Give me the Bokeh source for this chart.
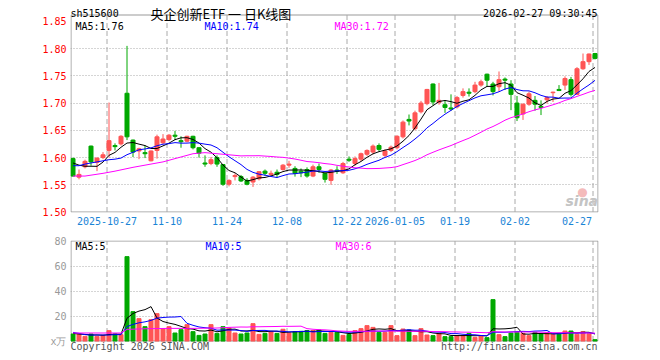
import numpy as np
import pandas as pd
from bokeh.plotting import figure
from bokeh.layouts import column
from bokeh.models import (FixedTicker, CustomJSTickFormatter, PrintfTickFormatter,
                          Label, Range1d, ColumnDataSource)
from bokeh.embed import file_html
from bokeh.resources import INLINE

# ---------------- data ----------------
dates = [
    "2025-10-17", "2025-10-20", "2025-10-21", "2025-10-22", "2025-10-23", "2025-10-24",
    "2025-10-27", "2025-10-28", "2025-10-29", "2025-10-30", "2025-10-31",
    "2025-11-03", "2025-11-04", "2025-11-05", "2025-11-06", "2025-11-07",
    "2025-11-10", "2025-11-11", "2025-11-12", "2025-11-13", "2025-11-14",
    "2025-11-17", "2025-11-18", "2025-11-19", "2025-11-20", "2025-11-21",
    "2025-11-24", "2025-11-25", "2025-11-26", "2025-11-27", "2025-11-28",
    "2025-12-01", "2025-12-02", "2025-12-03", "2025-12-04", "2025-12-05",
    "2025-12-08", "2025-12-09", "2025-12-10", "2025-12-11", "2025-12-12",
    "2025-12-15", "2025-12-16", "2025-12-17", "2025-12-18", "2025-12-19",
    "2025-12-22", "2025-12-23", "2025-12-24", "2025-12-25", "2025-12-26",
    "2025-12-29", "2025-12-30", "2025-12-31",
    "2026-01-05", "2026-01-06", "2026-01-07", "2026-01-08", "2026-01-09",
    "2026-01-12", "2026-01-13", "2026-01-14", "2026-01-15", "2026-01-16",
    "2026-01-19", "2026-01-20", "2026-01-21", "2026-01-22", "2026-01-23",
    "2026-01-26", "2026-01-27", "2026-01-28", "2026-01-29", "2026-01-30",
    "2026-02-02", "2026-02-03", "2026-02-04", "2026-02-05", "2026-02-06",
    "2026-02-09", "2026-02-10", "2026-02-11", "2026-02-12", "2026-02-13",
    "2026-02-24", "2026-02-25", "2026-02-26", "2026-02-27",
]

opens = [1.598, 1.564, 1.583, 1.621, 1.591, 1.600, 1.613, 1.622, 1.625, 1.718,
         1.632, 1.612, 1.609, 1.594, 1.613, 1.627, 1.633, 1.641, 1.631, 1.630,
         1.639, 1.618, 1.590, 1.589, 1.600, 1.587, 1.551, 1.565, 1.565, 1.558,
         1.555, 1.561, 1.575, 1.569, 1.573, 1.578, 1.586, 1.580, 1.575, 1.578,
         1.566, 1.583, 1.571, 1.558, 1.577, 1.572, 1.597, 1.589, 1.597, 1.606,
         1.610, 1.622, 1.604, 1.613, 1.618, 1.638, 1.670, 1.653, 1.684, 1.699,
         1.735, 1.701, 1.697, 1.691, 1.693, 1.714, 1.720, 1.721, 1.733, 1.753,
         1.735, 1.730, 1.744, 1.735, 1.700, 1.680, 1.698, 1.705, 1.694, 1.706,
         1.719, 1.725, 1.733, 1.743, 1.716, 1.763, 1.776, 1.791]
highs = [1.600, 1.578, 1.596, 1.622, 1.600, 1.610, 1.701, 1.626, 1.641, 1.805,
         1.633, 1.618, 1.622, 1.613, 1.642, 1.643, 1.643, 1.649, 1.639, 1.640,
         1.640, 1.619, 1.604, 1.601, 1.604, 1.588, 1.560, 1.571, 1.568, 1.562,
         1.566, 1.575, 1.578, 1.576, 1.578, 1.588, 1.594, 1.584, 1.580, 1.582,
         1.587, 1.589, 1.572, 1.579, 1.584, 1.592, 1.602, 1.602, 1.609, 1.615,
         1.624, 1.626, 1.615, 1.622, 1.641, 1.668, 1.679, 1.686, 1.704, 1.726,
         1.736, 1.737, 1.705, 1.716, 1.713, 1.727, 1.727, 1.739, 1.743, 1.754,
         1.739, 1.758, 1.747, 1.742, 1.713, 1.699, 1.721, 1.713, 1.705, 1.713,
         1.721, 1.733, 1.749, 1.748, 1.766, 1.791, 1.791, 1.792]
lows = [1.565, 1.560, 1.580, 1.585, 1.575, 1.597, 1.600, 1.613, 1.622, 1.632,
        1.601, 1.597, 1.599, 1.593, 1.598, 1.625, 1.630, 1.632, 1.618, 1.628,
        1.615, 1.600, 1.583, 1.586, 1.583, 1.548, 1.547, 1.558, 1.555, 1.549,
        1.546, 1.558, 1.566, 1.565, 1.564, 1.576, 1.581, 1.565, 1.564, 1.563,
        1.564, 1.572, 1.554, 1.550, 1.570, 1.570, 1.592, 1.585, 1.593, 1.603,
        1.606, 1.611, 1.600, 1.610, 1.615, 1.635, 1.659, 1.650, 1.681, 1.696,
        1.696, 1.697, 1.682, 1.686, 1.690, 1.710, 1.712, 1.718, 1.730, 1.730,
        1.714, 1.721, 1.724, 1.687, 1.667, 1.669, 1.695, 1.686, 1.678, 1.699,
        1.702, 1.722, 1.724, 1.712, 1.715, 1.761, 1.770, 1.780]
closes = [1.566, 1.569, 1.593, 1.592, 1.599, 1.605, 1.631, 1.620, 1.639, 1.638,
          1.610, 1.616, 1.607, 1.612, 1.638, 1.634, 1.641, 1.639, 1.629, 1.639,
          1.618, 1.608, 1.588, 1.596, 1.588, 1.551, 1.558, 1.567, 1.557, 1.551,
          1.564, 1.574, 1.571, 1.571, 1.569, 1.586, 1.588, 1.571, 1.572, 1.566,
          1.583, 1.578, 1.560, 1.577, 1.575, 1.589, 1.595, 1.598, 1.607, 1.613,
          1.621, 1.615, 1.612, 1.619, 1.639, 1.665, 1.667, 1.682, 1.700, 1.725,
          1.702, 1.705, 1.692, 1.689, 1.710, 1.721, 1.718, 1.733, 1.739, 1.742,
          1.721, 1.743, 1.742, 1.716, 1.673, 1.698, 1.717, 1.698, 1.692, 1.710,
          1.720, 1.723, 1.745, 1.716, 1.763, 1.776, 1.790, 1.782]
volumes = [5.6, 5.6, 3.7, 5.6, 3.7, 4.5, 8.3, 5.6, 5.1, 67.5,
           23.5, 17.9, 11.5, 17.1, 21.9, 9.6, 11.5, 6.4, 9.1, 13.1,
           7.5, 4.5, 5.6, 13.1, 6.1, 11.5, 10.4, 6.4, 5.6, 6.4,
           13.9, 5.3, 6.1, 7.5, 6.1, 9.4, 6.4, 7.5, 7.7, 8.3,
           8.3, 8.8, 6.1, 6.9, 6.9, 4.5, 5.3, 8.3, 9.9, 12.3,
           10.9, 6.9, 6.9, 12.3, 4.3, 9.6, 8.8, 4.3, 9.9, 4.8,
           4.3, 6.1, 3.5, 3.5, 4.3, 4.3, 6.1, 2.9, 4.3, 2.7,
           33.1, 5.1, 3.5, 6.4, 6.9, 6.1, 4.3, 6.9, 5.6, 6.4,
           5.6, 6.1, 8.0, 8.0, 5.5, 7.5, 5.8, 1.1]

# moving-average values before a full window exists
ma5_head = [1.590, 1.586, 1.584, 1.584]
ma10_head = [1.585, 1.585, 1.588, 1.590, 1.592, 1.594, 1.596, 1.597, 1.599]
ma30_head_days = [0, 2, 5, 7, 10, 13, 15, 17, 20, 22, 25, 28]
ma30_head = [1.566, 1.566, 1.571, 1.575, 1.582, 1.588, 1.592, 1.598, 1.607, 1.609, 1.606, 1.603]
vma5_head = [6.1, 5.6, 5.3, 4.8]
vma10_head = [6.9, 6.1, 5.1, 4.8, 4.8, 4.8, 4.8, 5.1, 5.1]
vma30_head_days = [0, 8, 9, 12, 16, 20, 24, 26, 28]
vma30_head = [6.4, 6.4, 9.3, 9.8, 10.1, 10.1, 10.4, 10.9, 11.2]

tick_dates = ["2025-10-27", "2025-11-10", "2025-11-24", "2025-12-08", "2025-12-22",
              "2026-01-05", "2026-01-19", "2026-02-02", "2026-02-27"]
tick_labels = ["2025-10-27", "11-10", "11-24", "12-08", "12-22",
               "2026-01-05", "01-19", "02-02", "02-27"]
price_ticks = [1.50, 1.55, 1.60, 1.65, 1.70, 1.75, 1.80, 1.85]
price_grid = [1.55, 1.60, 1.65, 1.70, 1.75, 1.80]
vol_ticks = [0, 20, 40, 60, 80]
vol_grid = [20, 40, 60]

code = "sh515600"
title = "央企创新ETF 一 日K线图"
stamp = "2026-02-27 09:30:45"
ma_price_text = ["MA5:1.76", "MA10:1.74", "MA30:1.72"]
ma_vol_text = ["MA5:5", "MA10:5", "MA30:6"]

# ---------------- derived ----------------
n = len(dates)
x = np.arange(n)
c = pd.Series(closes)
v = pd.Series(volumes)

def ma_line(series, w, head):
    m = series.rolling(w).mean().to_numpy()
    m[:w - 1] = head
    return m

ma5 = ma_line(c, 5, ma5_head)
ma10 = ma_line(c, 10, ma10_head)
ma30_x = list(ma30_head_days) + list(range(29, n))
ma30_y = list(ma30_head) + list(c.rolling(30).mean().to_numpy()[29:])
vma5 = ma_line(v, 5, vma5_head)
vma10 = ma_line(v, 10, vma10_head)
vma30_x = list(vma30_head_days) + list(range(29, n))
vma30_y = list(vma30_head) + list(v.rolling(30).mean().to_numpy()[29:])

RED = "#ff5555"
GREEN = "#00a800"
GRID = "#aaaaaa"
FRAME = "#999999"
MONO = "DejaVu Sans Mono"

colors = [RED if cl >= op else GREEN for op, cl in zip(opens, closes)]
src = ColumnDataSource(dict(
    x=x, o=opens, h=highs, l=lows, c=closes, v=volumes,
    top=np.maximum(opens, closes), bot=np.minimum(opens, closes), col=colors))

# layout constants (pixels)
UX = 1 / 6                    # data units per pixel along x (6 px per day)
X0 = -0.4167                  # left edge of plotting area
xr = Range1d(X0, X0 + 528 * UX)
GRID_OFF = 2 * UX             # grid line sits 2 px left of candle centre
grid_pos = [dates.index(d) - GRID_OFF for d in tick_dates]
label_pos = list(grid_pos)
label_pos[-1] = grid_pos[-1] - 16 * UX   # last label kept inside the panel
bx0, bx1 = X0 + 0.5 * UX, X0 + 527.5 * UX  # panel border x (pixel centres)

# ---------------- price panel ----------------
P = 0.30 / 163.4               # price per pixel
y_lo = 1.50 - 0.5 * P
p1 = figure(width=660, height=232, x_range=xr, y_range=Range1d(y_lo, y_lo + 212 * P),
            toolbar_location=None, output_backend="svg",
            min_border_left=70, min_border_right=62, min_border_top=0, min_border_bottom=20)
p1.outline_line_color = None
p1.background_fill_color = "white"
p1.border_fill_color = "white"
price_top = 1.50 + 197 * P     # panel top border

p1.quad(left=bx0, right=bx1, bottom=1.50, top=price_top, fill_color=None,
        line_color=FRAME, line_width=1)
p1.segment(x0=grid_pos, y0=1.50, x1=grid_pos, y1=price_top, line_color=GRID,
           line_dash="5 3", line_width=1)

p1.segment(x0="x", y0="l", x1="x", y1="h", color="col", line_width=1, source=src)
p1.vbar(x="x", width=0.67, top="top", bottom="bot", fill_color="col", line_color="col",
        line_width=1, source=src)
p1.line(x, ma5, color="black", line_width=1)
p1.line(x, ma10, color="#0000ff", line_width=1)
p1.line(ma30_x, ma30_y, color="#ff00ff", line_width=1)

for ax in (p1.yaxis, p1.xaxis):
    ax.major_label_text_font = MONO
    ax.major_label_text_font_size = "10px"
    ax.major_label_standoff = 4
    ax.axis_line_color = None
    ax.major_tick_line_color = None
    ax.minor_tick_line_color = None
    ax.major_tick_out = 0
    ax.major_tick_in = 0
    ax.minor_tick_out = 0
    ax.minor_tick_in = 0

p1.yaxis.ticker = FixedTicker(ticks=price_ticks)
p1.yaxis.formatter = PrintfTickFormatter(format="%.2f")
p1.yaxis.major_label_text_color = "#ff0000"

fmt = CustomJSTickFormatter(args=dict(pos=label_pos, names=tick_labels), code="""
for (let k = 0; k < pos.length; k++) { if (Math.abs(pos[k] - tick) < 1e-6) return names[k]; }
return "";
""")
p1.xaxis.ticker = FixedTicker(ticks=label_pos)
p1.xaxis.formatter = fmt
p1.xaxis.major_label_text_color = "#1a84d6"

p1.ygrid[0].ticker = FixedTicker(ticks=price_grid)
p1.ygrid.grid_line_color = GRID
p1.ygrid.grid_line_dash = "1 2"
p1.xgrid.visible = False

def lab(fig, x_, y_, text, color="black", size="10px", font=MONO, align="left", **kw):
    fig.add_layout(Label(x=x_, y=y_, x_units="screen", y_units="screen", text=text,
                         text_color=color, text_font_size=size, text_font=font,
                         text_align=align, text_baseline="middle", **kw))

# screen y below is measured up from the bottom of the plotting area (y = 212)
lab(p1, 0, 199.2, code)
lab(p1, 80, 199.5, title, size="13px", font="Noto Sans CJK SC")
lab(p1, 527, 199.2, stamp, align="right")
lab(p1, 5, 186.5, ma_price_text[0], color="black")
lab(p1, 134, 186.5, ma_price_text[1], color="#0000ff")
lab(p1, 264, 186.5, ma_price_text[2], color="#ff00ff")
# sina watermark
lab(p1, 512, 21, "●", color="#f2a8a8", size="12px", font="DejaVu Sans", align="center",
    text_alpha=0.8)
lab(p1, 495, 12, "sina", color="#c4c4c4", size="14px", font="DejaVu Sans",
    text_font_style="bold italic")

# ---------------- volume panel ----------------
V = 0.8                        # volume units per pixel
p2 = figure(width=660, height=128, x_range=xr,
            y_range=Range1d(-19.5 * V, 80 + 0.5 * V),
            toolbar_location=None, output_backend="svg",
            min_border_left=70, min_border_right=62, min_border_top=8, min_border_bottom=0)
p2.outline_line_color = None
p2.background_fill_color = "white"
p2.border_fill_color = "white"

p2.quad(left=bx0, right=bx1, bottom=0, top=80, fill_color=None,
        line_color=FRAME, line_width=1)
p2.segment(x0=grid_pos, y0=0, x1=grid_pos, y1=80, line_color=GRID,
           line_dash="5 3", line_width=1)
p2.vbar(x="x", width=0.67, top="v", bottom=0, fill_color="col", line_color="col",
        line_width=1, source=src)
p2.line(x, vma5, color="black", line_width=1)
p2.line(x, vma10, color="#0000ff", line_width=1)
p2.line(vma30_x, vma30_y, color="#ff00ff", line_width=1)

p2.xaxis.visible = False
p2.yaxis.ticker = FixedTicker(ticks=vol_ticks)
p2.yaxis.major_label_overrides = {0: "x万"}
p2.yaxis.major_label_text_color = "#999999"
p2.yaxis.major_label_text_font = MONO
p2.yaxis.major_label_text_font_size = "10px"
p2.yaxis.major_label_standoff = 4
p2.yaxis.axis_line_color = None
p2.yaxis.major_tick_line_color = None
p2.yaxis.minor_tick_line_color = None
p2.yaxis.major_tick_out = 0
p2.yaxis.major_tick_in = 0
p2.yaxis.minor_tick_out = 0
p2.yaxis.minor_tick_in = 0
p2.ygrid[0].ticker = FixedTicker(ticks=vol_grid)
p2.ygrid.grid_line_color = GRID
p2.ygrid.grid_line_dash = "1 2"
p2.xgrid.visible = False

# screen y measured up from the bottom of the page (y = 360)
lab(p2, 5, 114.3, ma_vol_text[0], color="black")
lab(p2, 135, 114.3, ma_vol_text[1], color="#0000ff")
lab(p2, 265, 114.3, ma_vol_text[2], color="#ff00ff")
lab(p2, 0, 14.5, "Copyright 2026 SINA.COM", color="#555555")
lab(p2, 527, 14.5, "http://finance.sina.com.cn", color="#555555", align="right")

layout = column(p1, p2, spacing=0)
open("out.html", "w").write(file_html(layout, INLINE))
